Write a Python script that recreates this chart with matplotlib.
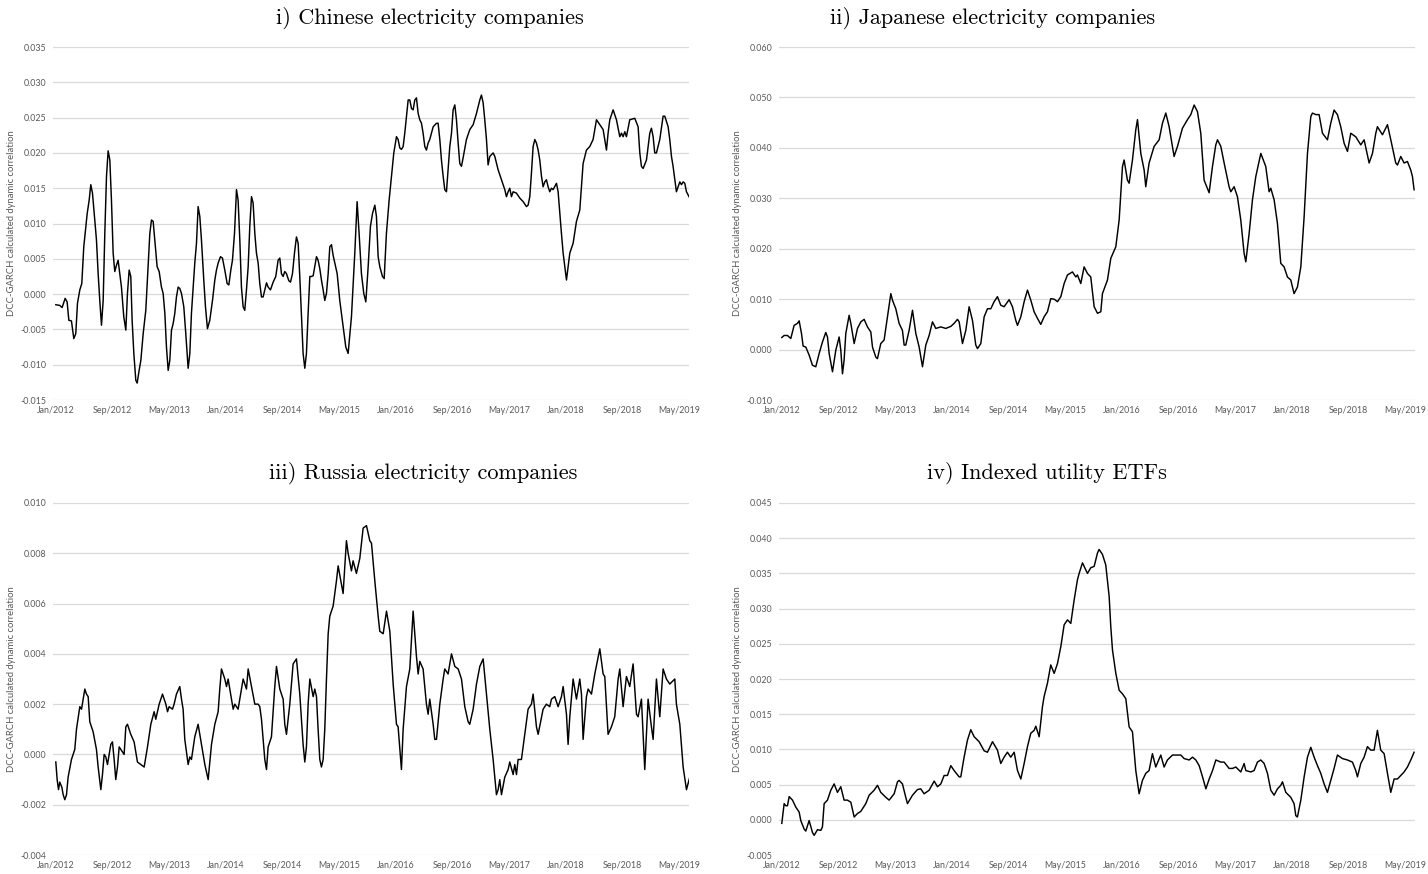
import matplotlib
matplotlib.use("Agg")
import matplotlib.pyplot as plt
from matplotlib.ticker import FormatStrFormatter

plt.rcParams["font.family"] = ["Lato", "DejaVu Sans"]
plt.rcParams["axes.unicode_minus"] = False

# x axis: months since Jan/2012, labels every 8 months
tick_months = [0, 8, 16, 24, 32, 40, 48, 56, 64, 72, 80, 88]
tick_labels = ["Jan/2012", "Sep/2012", "May/2013", "Jan/2014", "Sep/2014", "May/2015",
               "Jan/2016", "Sep/2016", "May/2017", "Jan/2018", "Sep/2018", "May/2019"]

# i) Chinese electricity companies
china_t = [0.00, 0.56, 0.89, 1.32, 1.60, 1.84, 2.21, 2.54, 2.82, 3.06,
           3.39, 3.67, 3.95, 4.24, 4.43, 4.71, 4.94, 5.18, 5.51, 5.74,
           5.98, 6.21, 6.45, 6.69, 6.92, 7.16, 7.39, 7.63, 7.86, 8.10,
           8.33, 8.57, 8.80, 9.04, 9.27, 9.60, 9.89, 10.12, 10.36, 10.59,
           10.78, 11.02, 11.30, 11.49, 11.77, 12.01, 12.34, 12.71, 13.04, 13.28,
           13.51, 13.75, 13.98, 14.31, 14.60, 14.92, 15.16, 15.40, 15.63, 15.87,
           16.10, 16.34, 16.57, 16.81, 17.04, 17.28, 17.51, 17.75, 18.08, 18.36,
           18.69, 18.93, 19.16, 19.40, 19.63, 19.87, 20.10, 20.34, 20.57, 20.90,
           21.14, 21.42, 21.75, 22.13, 22.46, 22.69, 22.93, 23.26, 23.54, 23.87,
           24.20, 24.44, 24.72, 24.95, 25.24, 25.52, 25.75, 25.99, 26.22, 26.46,
           26.69, 26.93, 27.17, 27.40, 27.64, 27.87, 28.11, 28.34, 28.58, 28.81,
           29.05, 29.28, 29.52, 29.76, 29.99, 30.32, 30.70, 31.07, 31.40, 31.64,
           31.87, 32.11, 32.34, 32.58, 32.91, 33.15, 33.43, 33.71, 33.99, 34.23,
           34.46, 34.70, 34.93, 35.17, 35.40, 35.64, 35.88, 36.11, 36.35, 36.58,
           36.82, 37.05, 37.29, 37.52, 37.76, 37.99, 38.23, 38.47, 38.70, 38.94,
           39.17, 39.41, 39.74, 40.11, 40.58, 40.96, 41.29, 41.76, 42.23, 42.56,
           42.84, 43.17, 43.50, 43.79, 44.12, 44.44, 44.73, 45.06, 45.29, 45.53,
           45.76, 46.14, 46.38, 46.70, 47.08, 47.41, 47.74, 48.12, 48.35, 48.59,
           48.82, 49.06, 49.29, 49.53, 49.77, 50.00, 50.24, 50.47, 50.71, 50.94,
           51.18, 51.41, 51.65, 51.88, 52.12, 52.35, 52.59, 52.82, 53.30, 53.77,
           54.00, 54.24, 54.47, 54.71, 54.94, 55.18, 55.41, 55.65, 55.89, 56.12,
           56.36, 56.59, 56.83, 57.06, 57.30, 57.53, 58.00, 58.47, 58.95, 59.42,
           59.89, 60.12, 60.36, 60.59, 60.83, 61.06, 61.30, 61.77, 62.01, 62.48,
           62.95, 63.42, 63.65, 63.89, 64.12, 64.36, 64.60, 65.07, 65.54, 66.01,
           66.48, 66.71, 66.95, 67.18, 67.42, 67.66, 67.89, 68.13, 68.36, 68.60,
           68.83, 69.07, 69.30, 69.54, 69.77, 70.01, 70.24, 70.72, 70.95, 71.19,
           71.42, 71.66, 71.89, 72.13, 72.36, 72.60, 73.07, 73.54, 74.01, 74.25,
           74.48, 74.95, 75.42, 75.89, 76.37, 76.84, 77.31, 77.54, 77.78, 78.01,
           78.25, 78.72, 79.19, 79.66, 79.90, 80.13, 80.37, 80.60, 81.07, 81.78,
           82.25, 82.49, 82.72, 82.96, 83.43, 83.90, 84.13, 84.37, 84.60, 84.84,
           85.31, 85.78, 86.02, 86.49, 86.72, 86.96, 87.19, 87.43, 87.66, 87.90,
           88.14, 88.37, 88.61, 88.84, 89.08, 89.55]
china_v = [-0.0015, -0.0016, -0.0019, -0.0006, -0.0011, -0.0037, -0.0038, -0.0063, -0.0056, -0.0013,
           0.0006, 0.0015, 0.0067, 0.0096, 0.0114, 0.0133, 0.0155, 0.0143, 0.0105, 0.0077,
           0.0029, -0.0009, -0.0044, -0.0009, 0.0086, 0.0167, 0.0203, 0.0190, 0.0133, 0.0058,
           0.0032, 0.0041, 0.0048, 0.0029, 0.0010, -0.0032, -0.0051, 0.0001, 0.0034, 0.0025,
           -0.0037, -0.0084, -0.0122, -0.0126, -0.0108, -0.0094, -0.0056, -0.0023, 0.0039, 0.0086,
           0.0105, 0.0103, 0.0077, 0.0039, 0.0032, 0.0010, 0.0001, -0.0027, -0.0075, -0.0108,
           -0.0094, -0.0051, -0.0042, -0.0027, -0.0004, 0.0010, 0.0008, 0.0001, -0.0018, -0.0056,
           -0.0105, -0.0084, -0.0027, 0.0010, 0.0044, 0.0072, 0.0124, 0.0110, 0.0077, 0.0020,
           -0.0018, -0.0049, -0.0037, -0.0009, 0.0020, 0.0034, 0.0044, 0.0053, 0.0051, 0.0034,
           0.0015, 0.0013, 0.0034, 0.0048, 0.0086, 0.0148, 0.0133, 0.0077, 0.0010, -0.0018,
           -0.0023, 0.0006, 0.0039, 0.0096, 0.0138, 0.0129, 0.0086, 0.0058, 0.0044, 0.0015,
           -0.0004, -0.0004, 0.0006, 0.0016, 0.0010, 0.0006, 0.0017, 0.0025, 0.0048, 0.0051,
           0.0029, 0.0025, 0.0032, 0.0029, 0.0019, 0.0017, 0.0029, 0.0058, 0.0081, 0.0072,
           0.0025, -0.0032, -0.0084, -0.0105, -0.0084, -0.0027, 0.0025, 0.0025, 0.0026, 0.0039,
           0.0053, 0.0048, 0.0036, 0.0020, 0.0006, -0.0009, 0.0001, 0.0029, 0.0067, 0.0070,
           0.0055, 0.0044, 0.0029, -0.0009, -0.0046, -0.0075, -0.0084, -0.0032, 0.0058, 0.0131,
           0.0086, 0.0029, 0.0001, -0.0011, 0.0039, 0.0096, 0.0114, 0.0126, 0.0110, 0.0053,
           0.0039, 0.0025, 0.0022, 0.0086, 0.0133, 0.0167, 0.0200, 0.0223, 0.0219, 0.0207,
           0.0205, 0.0209, 0.0228, 0.0252, 0.0275, 0.0275, 0.0263, 0.0261, 0.0275, 0.0278,
           0.0256, 0.0247, 0.0242, 0.0228, 0.0209, 0.0204, 0.0214, 0.0219, 0.0237, 0.0242,
           0.0242, 0.0219, 0.0190, 0.0167, 0.0148, 0.0145, 0.0176, 0.0209, 0.0228, 0.0261,
           0.0268, 0.0247, 0.0214, 0.0185, 0.0181, 0.0193, 0.0219, 0.0233, 0.0240, 0.0256,
           0.0275, 0.0282, 0.0271, 0.0247, 0.0219, 0.0183, 0.0195, 0.0200, 0.0195, 0.0176,
           0.0162, 0.0148, 0.0138, 0.0145, 0.0150, 0.0138, 0.0145, 0.0143, 0.0136, 0.0131,
           0.0124, 0.0126, 0.0138, 0.0171, 0.0209, 0.0219, 0.0214, 0.0204, 0.0190, 0.0167,
           0.0152, 0.0159, 0.0162, 0.0152, 0.0145, 0.0150, 0.0148, 0.0157, 0.0145, 0.0114,
           0.0086, 0.0058, 0.0039, 0.0020, 0.0039, 0.0058, 0.0072, 0.0103, 0.0119, 0.0152,
           0.0185, 0.0204, 0.0209, 0.0219, 0.0247, 0.0240, 0.0233, 0.0219, 0.0204, 0.0228,
           0.0247, 0.0261, 0.0247, 0.0223, 0.0228, 0.0223, 0.0230, 0.0223, 0.0247, 0.0249,
           0.0237, 0.0200, 0.0181, 0.0178, 0.0190, 0.0228, 0.0235, 0.0223, 0.0200, 0.0200,
           0.0219, 0.0252, 0.0252, 0.0237, 0.0219, 0.0195, 0.0181, 0.0162, 0.0145, 0.0152,
           0.0159, 0.0155, 0.0159, 0.0157, 0.0145, 0.0136]

# ii) Japanese electricity companies
japan_t = [0.00, 0.33, 0.80, 1.27, 1.74, 2.21, 2.45, 2.78, 3.01, 3.39,
           3.86, 4.33, 4.80, 5.27, 5.74, 6.21, 6.45, 6.69, 7.16, 7.63,
           8.10, 8.33, 8.57, 8.80, 9.04, 9.51, 9.75, 10.22, 10.69, 11.16,
           11.63, 12.10, 12.57, 12.81, 13.28, 13.51, 13.98, 14.45, 14.92, 15.40,
           15.63, 16.10, 16.57, 17.04, 17.28, 17.51, 17.98, 18.46, 18.93, 19.40,
           19.87, 20.34, 20.81, 21.28, 21.75, 22.46, 23.16, 23.87, 24.34, 24.81,
           25.05, 25.52, 25.99, 26.46, 26.93, 27.40, 27.64, 28.11, 28.58, 29.05,
           29.52, 29.99, 30.46, 30.93, 31.40, 32.11, 32.58, 33.05, 33.29, 33.76,
           34.23, 34.70, 35.17, 35.64, 36.11, 36.58, 37.05, 37.52, 37.99, 38.47,
           38.94, 39.41, 39.88, 40.35, 41.05, 41.53, 41.76, 42.23, 42.70, 43.17,
           43.64, 44.12, 44.59, 45.06, 45.29, 46.00, 46.47, 47.18, 47.65, 48.12,
           48.35, 48.82, 49.06, 49.53, 50.00, 50.24, 50.71, 51.18, 51.41, 51.88,
           52.59, 53.30, 53.77, 54.24, 54.71, 55.41, 55.89, 56.59, 57.30, 57.77,
           58.24, 58.71, 59.18, 59.65, 60.36, 60.83, 61.30, 61.54, 62.01, 62.48,
           63.18, 63.42, 63.89, 64.36, 64.83, 65.30, 65.54, 66.01, 66.48, 66.95,
           67.66, 68.36, 68.83, 69.07, 69.54, 70.01, 70.48, 70.95, 71.42, 71.89,
           72.36, 72.83, 73.31, 73.78, 74.25, 74.72, 74.95, 75.42, 75.89, 76.37,
           77.07, 77.54, 78.01, 78.48, 78.95, 79.43, 79.90, 80.37, 81.07, 81.78,
           82.25, 82.96, 83.43, 83.90, 84.13, 84.84, 85.55, 86.02, 86.72, 86.96,
           87.43, 87.90, 88.37, 88.84, 89.08, 89.31]
japan_v = [0.0024, 0.0028, 0.0028, 0.0022, 0.0048, 0.0052, 0.0057, 0.0032, 0.0007, 0.0005,
           -0.0011, -0.0031, -0.0034, -0.0008, 0.0015, 0.0034, 0.0025, -0.0008, -0.0044, -0.0001,
           0.0025, -0.0001, -0.0048, -0.0021, 0.0032, 0.0068, 0.0052, 0.0012, 0.0042, 0.0055,
           0.0060, 0.0045, 0.0035, 0.0005, -0.0015, -0.0018, 0.0012, 0.0019, 0.0065, 0.0111,
           0.0098, 0.0081, 0.0052, 0.0038, 0.0009, 0.0009, 0.0038, 0.0078, 0.0032, 0.0005,
           -0.0034, 0.0009, 0.0028, 0.0055, 0.0042, 0.0045, 0.0042, 0.0046, 0.0052, 0.0060,
           0.0055, 0.0012, 0.0038, 0.0085, 0.0058, 0.0009, 0.0002, 0.0012, 0.0065, 0.0081,
           0.0081, 0.0095, 0.0105, 0.0088, 0.0085, 0.0099, 0.0085, 0.0058, 0.0048, 0.0065,
           0.0095, 0.0118, 0.0098, 0.0075, 0.0062, 0.0050, 0.0065, 0.0075, 0.0101, 0.0100,
           0.0095, 0.0105, 0.0131, 0.0148, 0.0154, 0.0144, 0.0148, 0.0131, 0.0164, 0.0151,
           0.0144, 0.0085, 0.0072, 0.0075, 0.0111, 0.0138, 0.0181, 0.0204, 0.0257, 0.0363,
           0.0376, 0.0336, 0.0330, 0.0376, 0.0436, 0.0456, 0.0389, 0.0356, 0.0323, 0.0370,
           0.0403, 0.0416, 0.0449, 0.0469, 0.0442, 0.0383, 0.0403, 0.0439, 0.0456, 0.0466,
           0.0485, 0.0472, 0.0429, 0.0336, 0.0311, 0.0363, 0.0406, 0.0416, 0.0403, 0.0370,
           0.0323, 0.0313, 0.0323, 0.0303, 0.0257, 0.0191, 0.0174, 0.0230, 0.0297, 0.0343,
           0.0389, 0.0363, 0.0313, 0.0320, 0.0297, 0.0250, 0.0171, 0.0164, 0.0144, 0.0138,
           0.0111, 0.0124, 0.0164, 0.0264, 0.0389, 0.0462, 0.0469, 0.0466, 0.0466, 0.0429,
           0.0416, 0.0449, 0.0475, 0.0466, 0.0442, 0.0409, 0.0393, 0.0429, 0.0422, 0.0406,
           0.0416, 0.0370, 0.0389, 0.0429, 0.0442, 0.0426, 0.0446, 0.0416, 0.0370, 0.0366,
           0.0383, 0.0370, 0.0373, 0.0356, 0.0343, 0.0317]

# iii) Russia electricity companies
russia_t = [0.00, 0.19, 0.38, 0.56, 0.85, 1.04, 1.27, 1.51, 1.74, 2.21,
            2.68, 2.92, 3.39, 3.63, 4.10, 4.33, 4.57, 4.80, 5.27, 5.74,
            5.98, 6.36, 6.59, 6.83, 7.06, 7.30, 7.77, 8.00, 8.24, 8.47,
            8.71, 8.95, 9.42, 9.65, 9.89, 10.12, 10.59, 11.06, 11.53, 12.01,
            12.48, 12.95, 13.42, 13.89, 14.12, 14.60, 15.07, 15.54, 15.78, 16.01,
            16.48, 16.71, 17.04, 17.51, 17.75, 17.98, 18.22, 18.69, 18.93, 19.16,
            19.63, 20.10, 20.57, 21.05, 21.52, 21.99, 22.46, 22.93, 23.16, 23.40,
            23.87, 24.11, 24.34, 24.58, 25.05, 25.28, 25.75, 26.22, 26.46, 26.93,
            27.17, 27.64, 28.11, 28.58, 28.81, 29.05, 29.52, 29.76, 29.99, 30.46,
            30.93, 31.17, 31.64, 32.11, 32.34, 32.58, 33.05, 33.52, 33.99, 34.46,
            34.93, 35.17, 35.40, 35.64, 35.88, 36.35, 36.58, 36.82, 37.05, 37.29,
            37.52, 37.76, 37.99, 38.23, 38.47, 38.70, 39.17, 39.41, 39.64, 39.88,
            40.58, 41.05, 41.29, 41.76, 41.99, 42.46, 42.94, 43.41, 43.88, 44.35,
            44.59, 45.06, 45.53, 45.76, 46.24, 46.71, 47.18, 47.65, 48.12, 48.35,
            48.82, 49.06, 49.53, 50.00, 50.47, 50.94, 51.18, 51.41, 51.88, 52.35,
            52.59, 52.82, 53.30, 53.53, 53.77, 54.24, 54.71, 54.94, 55.41, 55.89,
            56.36, 56.83, 57.30, 57.77, 58.24, 58.47, 58.95, 59.42, 59.89, 60.36,
            60.83, 61.30, 61.77, 62.24, 62.48, 62.71, 62.95, 63.42, 63.89, 64.12,
            64.60, 64.83, 65.07, 65.30, 65.77, 66.24, 66.71, 67.18, 67.42, 67.89,
            68.13, 68.83, 69.30, 69.77, 70.01, 70.48, 70.95, 71.42, 71.66, 72.13,
            72.36, 72.60, 73.07, 73.54, 74.01, 74.25, 74.48, 74.95, 75.19, 75.66,
            76.13, 76.84, 77.31, 77.54, 78.01, 78.48, 78.95, 79.43, 79.66, 80.13,
            80.60, 81.07, 81.54, 82.02, 82.25, 82.72, 83.19, 83.66, 84.13, 84.37,
            84.84, 85.31, 85.78, 86.25, 86.72, 87.43, 87.66, 88.14, 88.61, 89.08,
            89.55]
russia_v = [-0.0003, -0.0010, -0.0014, -0.0011, -0.0013, -0.0016, -0.0018, -0.0016, -0.0009, -0.0002,
            0.0002, 0.0010, 0.0019, 0.0018, 0.0026, 0.0024, 0.0023, 0.0013, 0.0009, 0.0002,
            -0.0005, -0.0014, -0.0008, 0.0000, -0.0001, -0.0004, 0.0004, 0.0005, -0.0002, -0.0010,
            -0.0005, 0.0003, 0.0001, 0.0000, 0.0011, 0.0012, 0.0008, 0.0005, -0.0003, -0.0004,
            -0.0005, 0.0003, 0.0012, 0.0017, 0.0014, 0.0020, 0.0024, 0.0020, 0.0017, 0.0019,
            0.0018, 0.0020, 0.0024, 0.0027, 0.0022, 0.0018, 0.0006, -0.0004, -0.0001, -0.0002,
            0.0007, 0.0012, 0.0004, -0.0004, -0.0010, 0.0004, 0.0012, 0.0017, 0.0026, 0.0034,
            0.0030, 0.0027, 0.0030, 0.0026, 0.0018, 0.0020, 0.0018, 0.0026, 0.0030, 0.0026,
            0.0034, 0.0027, 0.0020, 0.0020, 0.0019, 0.0014, -0.0002, -0.0006, 0.0003, 0.0007,
            0.0027, 0.0035, 0.0026, 0.0022, 0.0012, 0.0008, 0.0020, 0.0036, 0.0038, 0.0024,
            0.0004, -0.0003, 0.0003, 0.0020, 0.0030, 0.0023, 0.0026, 0.0023, 0.0010, -0.0002,
            -0.0005, -0.0002, 0.0010, 0.0030, 0.0048, 0.0055, 0.0059, 0.0064, 0.0069, 0.0075,
            0.0064, 0.0085, 0.0080, 0.0073, 0.0077, 0.0072, 0.0078, 0.0090, 0.0091, 0.0085,
            0.0084, 0.0069, 0.0055, 0.0049, 0.0048, 0.0057, 0.0049, 0.0028, 0.0012, 0.0011,
            -0.0006, 0.0010, 0.0027, 0.0034, 0.0057, 0.0039, 0.0032, 0.0037, 0.0034, 0.0020,
            0.0016, 0.0022, 0.0012, 0.0006, 0.0006, 0.0020, 0.0030, 0.0034, 0.0032, 0.0040,
            0.0035, 0.0034, 0.0030, 0.0019, 0.0013, 0.0012, 0.0018, 0.0028, 0.0035, 0.0038,
            0.0024, 0.0010, -0.0002, -0.0016, -0.0014, -0.0010, -0.0016, -0.0009, -0.0006, -0.0003,
            -0.0008, -0.0004, -0.0008, -0.0002, -0.0002, 0.0008, 0.0018, 0.0020, 0.0024, 0.0011,
            0.0008, 0.0018, 0.0020, 0.0019, 0.0022, 0.0023, 0.0019, 0.0023, 0.0027, 0.0016,
            0.0004, 0.0015, 0.0030, 0.0022, 0.0030, 0.0024, 0.0006, 0.0023, 0.0026, 0.0024,
            0.0032, 0.0042, 0.0032, 0.0031, 0.0008, 0.0011, 0.0015, 0.0030, 0.0034, 0.0019,
            0.0031, 0.0027, 0.0036, 0.0016, 0.0015, 0.0022, -0.0006, 0.0022, 0.0011, 0.0006,
            0.0030, 0.0015, 0.0034, 0.0030, 0.0028, 0.0030, 0.0020, 0.0012, -0.0005, -0.0014,
            -0.0009]

# iv) Indexed utility ETFs
etf_t = [0.00, 0.33, 0.56, 0.80, 1.04, 1.51, 1.98, 2.45, 2.68, 3.15,
         3.39, 3.86, 4.33, 4.57, 5.04, 5.51, 5.74, 5.98, 6.45, 6.92,
         7.39, 7.86, 8.33, 8.80, 9.27, 9.75, 10.22, 10.69, 11.16, 11.86,
         12.34, 13.04, 13.51, 13.98, 14.69, 15.16, 15.87, 16.34, 16.57, 17.04,
         17.51, 17.75, 18.46, 19.16, 19.63, 20.10, 20.81, 21.52, 21.99, 22.46,
         22.93, 23.40, 23.87, 24.34, 25.05, 25.28, 25.75, 26.22, 26.69, 27.17,
         27.87, 28.58, 29.05, 29.76, 30.46, 30.93, 31.40, 31.87, 32.34, 32.82,
         33.29, 33.76, 34.23, 34.70, 35.17, 35.64, 35.88, 36.35, 36.82, 37.05,
         37.52, 37.99, 38.47, 38.94, 39.41, 39.88, 40.35, 40.82, 41.29, 41.76,
         42.00, 42.47, 43.17, 43.64, 44.12, 44.59, 44.82, 45.29, 45.76, 46.24,
         46.47, 46.71, 47.18, 47.65, 48.12, 48.59, 49.06, 49.53, 50.00, 50.47,
         50.94, 51.41, 51.88, 52.35, 52.82, 53.53, 54.00, 54.47, 55.18, 55.89,
         56.36, 56.83, 57.54, 58.01, 58.48, 58.95, 59.43, 59.90, 60.37, 60.84,
         61.31, 62.01, 62.48, 63.18, 63.66, 64.13, 64.83, 65.30, 65.54, 66.24,
         66.71, 67.18, 67.66, 68.13, 68.60, 69.07, 69.54, 70.01, 70.48, 70.72,
         71.19, 71.89, 72.36, 72.60, 72.83, 73.31, 73.78, 74.25, 74.72, 75.19,
         75.66, 76.13, 76.60, 77.07, 77.54, 78.01, 78.48, 79.19, 79.90, 80.60,
         81.07, 81.31, 81.78, 82.25, 82.72, 83.19, 83.66, 84.13, 84.60, 85.08,
         85.55, 86.02, 86.49, 86.96, 87.43, 87.90, 88.37, 88.84, 89.31]
etf_v = [-0.0005, 0.0023, 0.0020, 0.0020, 0.0033, 0.0028, 0.0018, 0.0011, -0.0001, -0.0013,
         -0.0016, -0.0001, -0.0018, -0.0022, -0.0014, -0.0015, -0.0010, 0.0023, 0.0028, 0.0042,
         0.0051, 0.0039, 0.0047, 0.0028, 0.0028, 0.0025, 0.0004, 0.0009, 0.0012, 0.0023,
         0.0035, 0.0042, 0.0049, 0.0039, 0.0032, 0.0028, 0.0037, 0.0054, 0.0056, 0.0051,
         0.0032, 0.0023, 0.0035, 0.0043, 0.0044, 0.0037, 0.0042, 0.0055, 0.0047, 0.0051,
         0.0063, 0.0063, 0.0077, 0.0070, 0.0061, 0.0061, 0.0089, 0.0113, 0.0128, 0.0118,
         0.0111, 0.0098, 0.0096, 0.0111, 0.0099, 0.0080, 0.0089, 0.0096, 0.0089, 0.0096,
         0.0070, 0.0058, 0.0080, 0.0104, 0.0123, 0.0127, 0.0133, 0.0118, 0.0161, 0.0175,
         0.0194, 0.0220, 0.0208, 0.0222, 0.0246, 0.0277, 0.0284, 0.0279, 0.0312, 0.0341,
         0.0350, 0.0365, 0.0350, 0.0358, 0.0360, 0.0379, 0.0384, 0.0377, 0.0362, 0.0317,
         0.0274, 0.0241, 0.0208, 0.0184, 0.0179, 0.0172, 0.0132, 0.0125, 0.0070, 0.0037,
         0.0056, 0.0066, 0.0070, 0.0094, 0.0075, 0.0092, 0.0075, 0.0085, 0.0092, 0.0092,
         0.0092, 0.0087, 0.0085, 0.0089, 0.0085, 0.0077, 0.0061, 0.0044, 0.0058, 0.0070,
         0.0085, 0.0082, 0.0082, 0.0073, 0.0073, 0.0075, 0.0068, 0.0080, 0.0070, 0.0068,
         0.0070, 0.0082, 0.0085, 0.0080, 0.0066, 0.0042, 0.0035, 0.0044, 0.0049, 0.0054,
         0.0039, 0.0032, 0.0023, 0.0006, 0.0004, 0.0028, 0.0061, 0.0089, 0.0103, 0.0089,
         0.0077, 0.0066, 0.0051, 0.0039, 0.0056, 0.0073, 0.0092, 0.0087, 0.0085, 0.0082,
         0.0070, 0.0061, 0.0080, 0.0089, 0.0104, 0.0099, 0.0099, 0.0127, 0.0099, 0.0094,
         0.0066, 0.0039, 0.0058, 0.0058, 0.0063, 0.0068, 0.0075, 0.0085, 0.0096]

titles = ["i) Chinese electricity companies", "ii) Japanese electricity companies",
          "iii) Russia electricity companies", "iv) Indexed utility ETFs"]
y_ranges = [(-0.015, 0.035, 0.005), (-0.010, 0.060, 0.010),
            (-0.004, 0.010, 0.002), (-0.005, 0.045, 0.005)]

# panel boxes in figure fractions and title anchor points (roughly where they sit)
boxes = [(0.0371, 0.5423, 0.4457, 0.4039), (0.5455, 0.5423, 0.4457, 0.4039),
         (0.0371, 0.0217, 0.4457, 0.4028), (0.5455, 0.0217, 0.4457, 0.4028)]
title_xy = [(0.301, 0.980), (0.695, 0.980), (0.296, 0.459), (0.733, 0.459)]

series = [(china_t, china_v), (japan_t, japan_v), (russia_t, russia_v), (etf_t, etf_v)]

fig = plt.figure(figsize=(14.28, 8.74), dpi=100)

for i in range(4):
    ax = fig.add_axes(boxes[i])
    t, v = series[i]
    ax.plot(t, v, color="black", lw=1.05, solid_joinstyle="round")

    lo, hi, step = y_ranges[i]
    n = int(round((hi - lo) / step))
    ax.set_yticks([lo + k * step for k in range(n + 1)])
    ax.set_ylim(lo, hi)
    ax.yaxis.set_major_formatter(FormatStrFormatter("%.3f"))
    ax.set_xlim(-0.4, 89.5)
    ax.set_xticks(tick_months)
    ax.set_xticklabels(tick_labels)

    ax.grid(axis="y", color="#d9d9d9", lw=0.9)
    ax.set_axisbelow(True)
    for s in ax.spines.values():
        s.set_visible(False)
    ax.tick_params(axis="both", length=0, labelsize=6.4, labelcolor="#595959")
    ax.tick_params(axis="y", pad=4.5)
    ax.tick_params(axis="x", pad=4)

    ax.set_ylabel("DCC-GARCH calculated dynamic correlation", fontsize=6.8, color="#595959")
    ax.yaxis.set_label_coords(-0.058, 0.5)

    fig.text(title_xy[i][0], title_xy[i][1], titles[i], family="cmr10",
             fontsize=16, ha="center", va="center")

fig.savefig("out.png", dpi=100)
